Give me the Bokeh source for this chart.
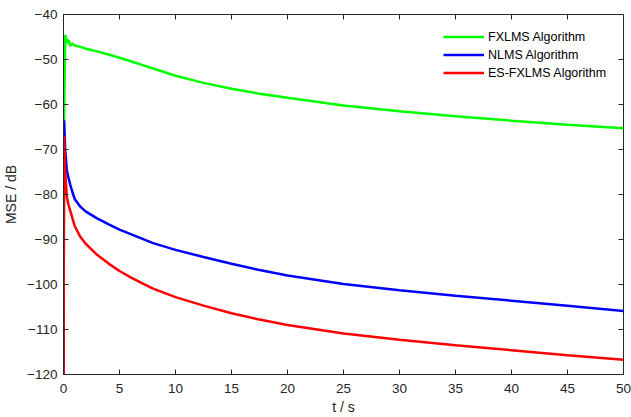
from bokeh.plotting import figure
from bokeh.models import LinearAxis, FixedTicker, Range1d, Legend, LegendItem
from bokeh.embed import file_html
from bokeh.resources import INLINE

# ---- data ----
t_vals = [0, 0.05, 0.15, 0.3, 0.45, 0.6, 0.8, 1, 1.5, 2, 3, 4, 5, 6, 7, 8, 10,
          12.5, 15, 17.5, 20, 25, 30, 35, 40, 45, 50]
fxlms = [-125, -63.5, -44.5, -46.3, -45.6, -47.0, -46.4, -46.9, -47.2, -47.6,
         -48.2, -48.9, -49.6, -50.4, -51.2, -52.0, -53.6, -55.2, -56.5, -57.6,
         -58.5, -60.2, -61.5, -62.6, -63.6, -64.5, -65.3]
nlms = [-125, -63.5, -70.0, -74.7, -76.3, -77.8, -79.5, -81.0, -82.7, -83.8,
        -85.3, -86.6, -87.8, -88.8, -89.8, -90.8, -92.3, -93.9, -95.4, -96.8,
        -98.0, -99.9, -101.3, -102.5, -103.6, -104.7, -105.9]
esfxlms = [-125, -67.0, -75.0, -80.6, -82.3, -83.6, -85.3, -87.0, -89.4, -91.0,
           -93.4, -95.3, -97.0, -98.4, -99.7, -100.9, -102.8, -104.7, -106.4,
           -107.8, -109.0, -110.9, -112.3, -113.5, -114.6, -115.7, -116.7]

x_ticks = [0, 5, 10, 15, 20, 25, 30, 35, 40, 45, 50]
y_ticks = [-120, -110, -100, -90, -80, -70, -60, -50, -40]
names = ["FXLMS Algorithm", "NLMS Algorithm", "ES-FXLMS Algorithm"]
colors = ["#00FF00", "#0000FF", "#FF0000"]

FONT = "Liberation Sans"
TXT = "#262626"
X0, X1, Y0, Y1 = 0, 50, -120, -40
FRAME_W, FRAME_H = 560, 360
TICK_PX = 5

p = figure(width=631, height=417, output_backend="svg", toolbar_location=None,
           x_range=Range1d(X0, X1), y_range=Range1d(Y0, Y1),
           min_border_left=63, min_border_right=8, min_border_top=14,
           min_border_bottom=43, x_axis_label="t / s", y_axis_label="MSE / dB")
p.grid.visible = False
p.outline_line_color = TXT
p.outline_line_width = 1
p.outline_line_alpha = 1
p.background_fill_color = "white"
p.border_fill_color = "white"

renderers = []
for ys, c in zip([fxlms, nlms, esfxlms], colors):
    r = p.line(t_vals, ys, line_color=c, line_width=2.5)
    renderers.append(r)

# inward tick marks on the top and right edges of the box
dy = TICK_PX * (Y1 - Y0) / FRAME_H
dx = TICK_PX * (X1 - X0) / FRAME_W
p.segment(x0=x_ticks, y0=[Y1] * len(x_ticks), x1=x_ticks, y1=[Y1 - dy] * len(x_ticks),
          line_color=TXT, line_width=1)
p.segment(x0=[X1] * len(y_ticks), y0=y_ticks, x1=[X1 - dx] * len(y_ticks), y1=y_ticks,
          line_color=TXT, line_width=1)

def style_axis(ax, ticks):
    ax.ticker = FixedTicker(ticks=ticks)
    ax.major_tick_in = TICK_PX
    ax.major_tick_out = 0
    ax.minor_tick_in = 0
    ax.minor_tick_out = 0
    ax.axis_line_color = TXT
    ax.major_tick_line_color = TXT
    ax.axis_line_width = 1
    ax.major_label_text_font = FONT
    ax.major_label_text_color = TXT
    ax.major_label_text_font_size = "13.5px"
    ax.axis_label_text_font = FONT
    ax.axis_label_text_font_size = "14px"
    ax.axis_label_text_font_style = "normal"
    ax.axis_label_text_color = TXT

style_axis(p.xaxis[0], x_ticks)
style_axis(p.yaxis[0], y_ticks)
p.xaxis[0].major_label_standoff = 9
p.xaxis[0].axis_label_standoff = 3
p.yaxis[0].major_label_standoff = 6
p.yaxis[0].axis_label_standoff = 5

legend = Legend(items=[LegendItem(label=n, renderers=[r]) for n, r in zip(names, renderers)],
                location=(380, 293), border_line_color=None,
                background_fill_alpha=0, label_text_font=FONT,
                label_text_font_size="12.5px", label_text_color="#000000",
                glyph_width=41, glyph_height=17, label_height=17,
                label_standoff=4, spacing=1, padding=0, margin=0)
p.add_layout(legend)

open("out.html", "w").write(file_html(p, INLINE))
